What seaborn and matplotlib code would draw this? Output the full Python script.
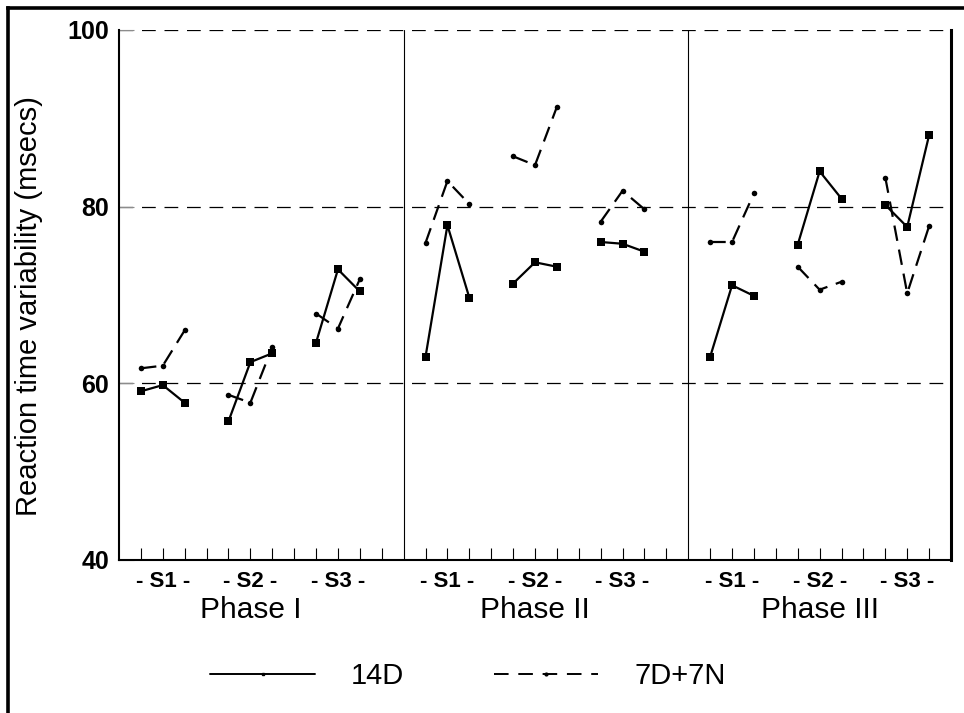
import matplotlib
matplotlib.use('Agg')
import matplotlib.pyplot as plt
from matplotlib.lines import Line2D
import numpy as np
import pandas as pd
import seaborn as sns

# data
phases = ['Phase I', 'Phase II', 'Phase III']
sessions = ['- S1 -', '- S2 -', '- S3 -']
conditions = ['14D', '7D+7N']
rt_14d = [59.1, 59.8, 57.8, 55.7, 62.4, 63.4, 64.6, 72.9, 70.4,
          63.0, 77.9, 69.7, 71.3, 73.7, 73.2, 76.0, 75.8, 74.9,
          63.0, 71.1, 69.9, 75.7, 84.0, 80.9, 80.2, 77.7, 88.1]
rt_7d7n = [61.7, 62.0, 66.0, 58.7, 57.8, 64.1, 67.9, 66.2, 71.8,
           75.9, 82.9, 80.3, 85.7, 84.7, 91.3, 78.3, 81.8, 79.7,
           76.0, 76.0, 81.5, 73.2, 70.6, 71.5, 83.3, 70.2, 77.8]

# x layout: 13 slots per phase (last phase 12), 3 points per session
phase_start = [0, 13, 26]
rows = []
for cond, vals in zip(conditions, [rt_14d, rt_7d7n]):
    k = 0
    for p in range(3):
        for s in range(3):
            for j in range(3):
                rows.append({'cond': cond, 'seg': p * 3 + s,
                             'pos': phase_start[p] + 1 + 4 * s + j,
                             'rt': vals[k]})
                k += 1
df = pd.DataFrame(rows)

sns.set_style("white")
plt.rcParams['font.family'] = ['Liberation Sans', 'DejaVu Sans']
plt.rcParams['text.color'] = 'black'
plt.rcParams['axes.labelcolor'] = 'black'

fig = plt.figure(figsize=(9.64, 7.13), dpi=100)
ax = fig.add_axes([119 / 964, 1 - 560 / 713, 832 / 964, 530 / 713])

sns.lineplot(data=df[df['cond'] == '14D'], x='pos', y='rt', units='seg',
             estimator=None, color='black', lw=1.6, marker='s',
             markersize=5.5, markeredgewidth=0, ax=ax, legend=False)
sns.lineplot(data=df[df['cond'] == '7D+7N'], x='pos', y='rt', units='seg',
             estimator=None, color='black', lw=1.6, marker='o',
             markersize=4, markeredgewidth=0, linestyle=(0, (7, 4)),
             ax=ax, legend=False)

for yv in [60, 80, 100]:
    ax.axhline(yv, color='black', lw=0.9, linestyle=(0, (11, 7)), zorder=0)
for xv in [13, 26]:
    ax.axvline(xv, color='black', lw=0.8, zorder=0)

ax.set_xlim(0, 38)
ax.set_ylim(40, 100)
ax.set_yticks([40, 60, 80, 100])
ax.set_yticklabels(['40', '60', '80', '100'], fontsize=18, fontweight='bold')

tick_pos = [i for i in range(1, 38) if i not in (13, 26)]
ax.set_xticks(tick_pos)
s_centers = [phase_start[p] + 2 + 4 * s for p in range(3) for s in range(3)]
ax.set_xticklabels([sessions[(i - 2) % 13 // 4] if i in s_centers else '' for i in tick_pos],
                   fontsize=16, fontweight='bold')
ax.tick_params(axis='x', direction='in', length=9, width=0.8, pad=8,
               color='black', labelcolor='black', bottom=True)
ax.tick_params(axis='y', direction='in', length=11, width=0.8, pad=7,
               color='0.55', labelcolor='black', left=True)

for p in range(3):
    ax.text(phase_start[p] + 6, -0.095, phases[p], transform=ax.get_xaxis_transform(),
            ha='center', va='center', fontsize=21.5, color='black')

ax.set_xlabel('')
ax.set_ylabel('Reaction time variability (msecs)', fontsize=21, color='black')
ax.yaxis.set_label_coords(-0.0915, 0.48)

ax.spines['top'].set_visible(False)
for side in ['left', 'bottom']:
    ax.spines[side].set_linewidth(1.5)
    ax.spines[side].set_color('black')
ax.spines['right'].set_linewidth(2.2)
ax.spines['right'].set_color('black')

handles = [Line2D([], [], color='black', lw=1.4, marker='s', markersize=2),
           Line2D([], [], color='black', lw=1.4, marker='o', markersize=2,
                  linestyle=(0, (7.5, 5)))]
fig.legend(handles, conditions, loc='center', bbox_to_anchor=(468 / 964, 1 - 676 / 713),
           ncol=2, frameon=False, fontsize=21, handlelength=3.57, handletextpad=1.23,
           columnspacing=3.1, borderpad=0, labelcolor='black')

# outer frame (top and left edges)
fig.add_artist(Line2D([7.5 / 964, 1], [1 - 7.5 / 713] * 2, transform=fig.transFigure,
                      color='black', lw=2.6, solid_capstyle='projecting'))
fig.add_artist(Line2D([7.5 / 964] * 2, [0, 1 - 7.5 / 713], transform=fig.transFigure,
                      color='black', lw=2.6, solid_capstyle='projecting'))

fig.savefig('out.png', dpi=100)
